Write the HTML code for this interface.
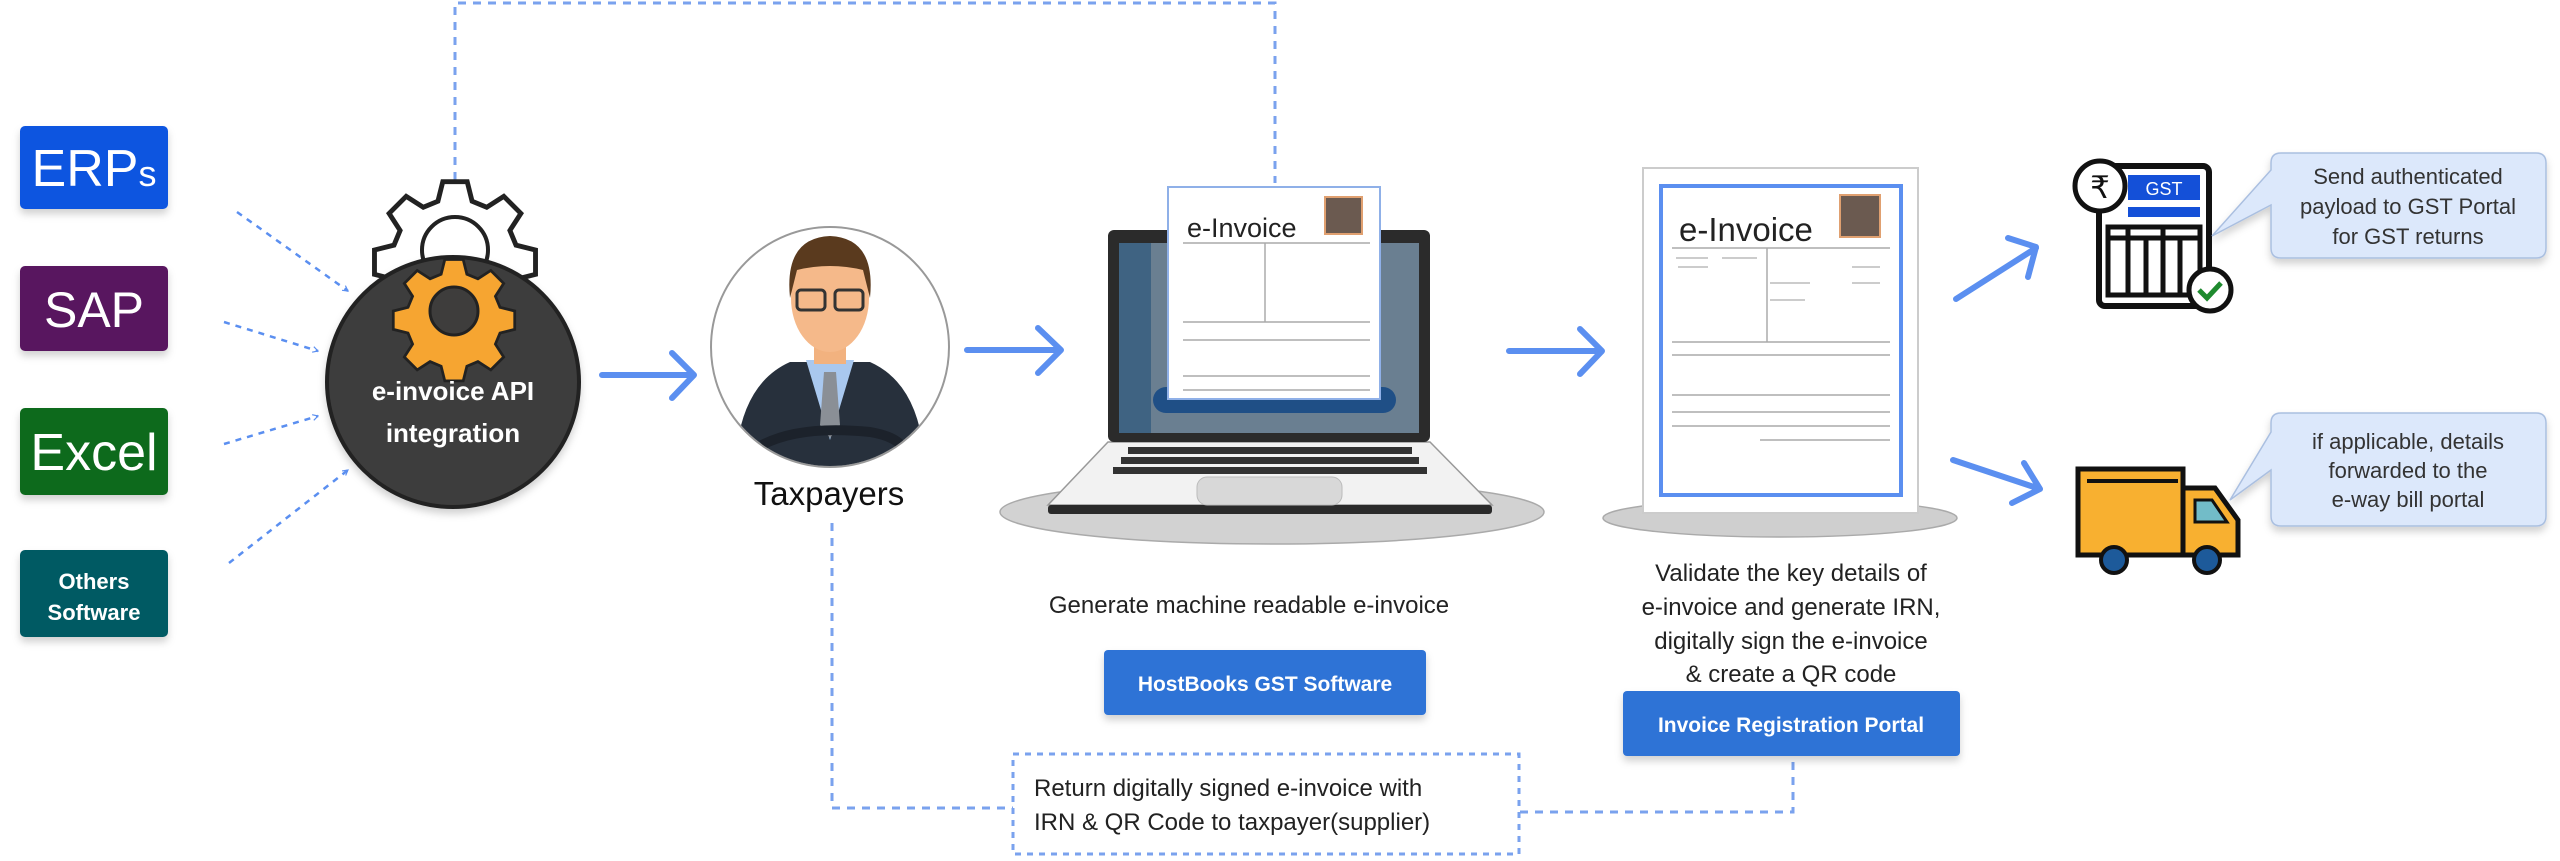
<!DOCTYPE html>
<html><head><meta charset="utf-8"><style>
html,body{margin:0;padding:0;background:#fff;width:2560px;height:861px;overflow:hidden}
svg{display:block}
text{font-family:"Liberation Sans","DejaVu Sans",sans-serif}
</style></head><body>
<svg width="2560" height="861" viewBox="0 0 2560 861" xmlns="http://www.w3.org/2000/svg">
<defs>
<marker id="oa" viewBox="0 0 12 12" refX="10" refY="6" markerWidth="7" markerHeight="7" orient="auto" markerUnits="userSpaceOnUse">
<path d="M1,1 L10,6 L1,11" fill="none" stroke="#5b8ff0" stroke-width="2"/></marker>
<filter id="sh" x="-20%" y="-20%" width="140%" height="150%"><feDropShadow dx="0" dy="5" stdDeviation="4" flood-color="#000" flood-opacity="0.18"/></filter>
<clipPath id="pc"><ellipse cx="830" cy="347" rx="118" ry="119"/></clipPath>
</defs>

<!-- top dashed connector -->
<path d="M455,180 V3 H1275 V183" fill="none" stroke="#7aa2ee" stroke-width="3" stroke-dasharray="8,7"/>
<!-- bottom return connectors -->
<path d="M832,523 V808 H1013" fill="none" stroke="#7aa2ee" stroke-width="3" stroke-dasharray="8,7"/>
<path d="M1793,762 V812 H1519" fill="none" stroke="#7aa2ee" stroke-width="3" stroke-dasharray="8,7"/>

<!-- source boxes -->
<g filter="url(#sh)">
<rect x="20" y="126" width="148" height="83" rx="5" fill="#0f54e0"/>
<rect x="20" y="266" width="148" height="85" rx="5" fill="#58125e"/>
<rect x="20" y="408" width="148" height="87" rx="5" fill="#0d6a1c"/>
<rect x="20" y="550" width="148" height="87" rx="5" fill="#055a64"/>
</g>
<text x="94" y="186" text-anchor="middle" font-size="52" fill="#fff">ERP<tspan font-size="36">s</tspan></text>
<text x="94" y="327" text-anchor="middle" font-size="50" fill="#fff">SAP</text>
<text x="94" y="470" text-anchor="middle" font-size="52" fill="#fff">Excel</text>
<text x="94" y="589" text-anchor="middle" font-size="22" fill="#fff" font-weight="bold">Others</text>
<text x="94" y="620" text-anchor="middle" font-size="22" fill="#fff" font-weight="bold">Software</text>

<!-- dashed arrows into API circle -->
<g stroke="#5b8ff0" stroke-width="2.5" stroke-dasharray="6,6" fill="none" marker-end="url(#oa)">
<line x1="237" y1="212" x2="348" y2="291"/>
<line x1="224" y1="322" x2="318" y2="351"/>
<line x1="224" y1="444" x2="318" y2="416"/>
<line x1="229" y1="563" x2="348" y2="470"/>
</g>

<!-- outline gear -->
<g transform="translate(455,250)">
<path d="M-10,-56 h20 l4,16 l12,5 l14,-9 l14,14 l-9,14 l5,12 l16,4 v20 l-16,4 l-5,12 l9,14 l-14,14 l-14,-9 l-12,5 l-4,16 h-20 l-4,-16 l-12,-5 l-14,9 l-14,-14 l9,-14 l-5,-12 l-16,-4 v-20 l16,-4 l5,-12 l-9,-14 l14,-14 l14,9 l12,-5 z" fill="#fff" stroke="#222" stroke-width="4" transform="scale(1.22)"/>
<circle r="33" fill="#fff" stroke="#222" stroke-width="4"/>
</g>
<!-- dark circle -->
<ellipse cx="453" cy="382" rx="126" ry="125" fill="#3e3d3c" stroke="#222" stroke-width="4" filter="url(#sh)"/>
<!-- orange gear -->
<g transform="translate(454,311)">
<path d="M-10,-56 h20 l4,16 l12,5 l14,-9 l14,14 l-9,14 l5,12 l16,4 v20 l-16,4 l-5,12 l9,14 l-14,14 l-14,-9 l-12,5 l-4,16 h-20 l-4,-16 l-12,-5 l-14,9 l-14,-14 l9,-14 l-5,-12 l-16,-4 v-20 l16,-4 l5,-12 l-9,-14 l14,-14 l14,9 l12,-5 z" fill="#f6a531" stroke="#222" stroke-width="3" transform="scale(0.92)"/>
<circle r="24" fill="#3e3d3c" stroke="#222" stroke-width="3"/>
</g>
<text x="453" y="400" text-anchor="middle" font-size="26" fill="#fff" font-weight="bold">e-invoice API</text>
<text x="453" y="442" text-anchor="middle" font-size="26" fill="#fff" font-weight="bold">integration</text>

<!-- solid arrows -->
<g stroke="#5b8ff0" stroke-width="6" fill="none" stroke-linecap="round" stroke-linejoin="round">
<path d="M602,375 H692 M672,353 L694,375 L672,398"/>
<path d="M967,350 H1058 M1038,328 L1061,350 L1038,373"/>
<path d="M1509,351 H1600 M1580,329 L1602,351 L1580,374"/>
<path d="M1956,299 L2036,248 M2008,238 L2036,247 L2028,277"/>
<path d="M1953,460 L2040,489 M2024,463 L2040,489 L2012,503"/>
</g>

<!-- taxpayer -->
<ellipse cx="830" cy="347" rx="119" ry="120" fill="#fff" stroke="#999" stroke-width="2"/>
<g clip-path="url(#pc)">
<path d="M735,470 Q738,385 790,362 L870,362 Q922,385 925,470 Z" fill="#27303c"/>
<path d="M806,360 L830,440 L854,360 Z" fill="#a9c8ef"/>
<path d="M824,372 L836,372 L840,425 L830,438 L820,425 Z" fill="#8a8f96"/>
<rect x="814" y="320" width="32" height="44" fill="#f2b27f"/>
<ellipse cx="830" cy="298" rx="39" ry="54" fill="#f5b98a"/>
<path d="M790,298 Q784,238 830,236 Q876,238 870,298 L863,270 Q830,262 797,270 Z" fill="#5a3a1e"/>
<rect x="797" y="290" width="28" height="20" rx="4" fill="none" stroke="#333" stroke-width="3"/>
<rect x="835" y="290" width="28" height="20" rx="4" fill="none" stroke="#333" stroke-width="3"/>
<path d="M762,445 Q800,425 870,432 Q900,437 905,452" fill="none" stroke="#1c222b" stroke-width="10"/>
</g>
<text x="829" y="505" text-anchor="middle" font-size="33" fill="#111">Taxpayers</text>

<!-- laptop -->
<ellipse cx="1272" cy="512" rx="272" ry="32" fill="#d2d2d2" stroke="#aaa" stroke-width="1.5"/>
<path d="M1108,442 L1430,442 L1492,505 L1048,505 Z" fill="#f2f2f2" stroke="#999" stroke-width="1.5"/>
<rect x="1048" y="505" width="444" height="9" rx="3" fill="#2a2a2a"/>
<g fill="#333">
<rect x="1128" y="447" width="284" height="7"/><rect x="1121" y="457" width="298" height="7"/><rect x="1113" y="467" width="314" height="7"/>
</g>
<rect x="1197" y="477" width="145" height="28" rx="10" fill="#d8d8d8" stroke="#bbb"/>
<rect x="1108" y="230" width="322" height="212" rx="6" fill="#2b2b2b"/>
<rect x="1119" y="243" width="300" height="190" fill="#6a7f91"/>
<rect x="1119" y="243" width="32" height="190" fill="#3f6382"/>
<rect x="1153" y="387" width="243" height="26" rx="13" fill="#1f4f86"/>
<!-- doc on laptop -->
<rect x="1168" y="187" width="212" height="212" fill="#fff" stroke="#8fb0e8" stroke-width="2"/>
<text x="1187" y="237" font-size="27" fill="#222">e-Invoice</text>
<rect x="1325" y="197" width="37" height="37" fill="#6b5a50" stroke="#e0a070" stroke-width="2"/>
<g stroke="#aaa" stroke-width="1.5">
<line x1="1183" y1="243" x2="1370" y2="243"/><line x1="1183" y1="322" x2="1370" y2="322"/>
<line x1="1183" y1="340" x2="1370" y2="340"/><line x1="1183" y1="376" x2="1370" y2="376"/>
<line x1="1183" y1="390" x2="1370" y2="390"/><line x1="1265" y1="243" x2="1265" y2="322"/>
</g>
<!-- document 2 -->
<ellipse cx="1780" cy="518" rx="177" ry="19" fill="#cfcfcf" stroke="#aaa" stroke-width="1.5"/>
<rect x="1643" y="168" width="275" height="345" fill="#fff" stroke="#ccc" stroke-width="2"/>
<rect x="1661" y="186" width="240" height="309" fill="none" stroke="#5b8ff0" stroke-width="4"/>
<text x="1679" y="241" font-size="33" fill="#222">e-Invoice</text>
<rect x="1840" y="195" width="40" height="42" fill="#6b5a50" stroke="#e0a070" stroke-width="2"/>
<g stroke="#aaa" stroke-width="1.5">
<line x1="1672" y1="248" x2="1890" y2="248"/><line x1="1672" y1="342" x2="1890" y2="342"/>
<line x1="1672" y1="355" x2="1890" y2="355"/><line x1="1672" y1="395" x2="1890" y2="395"/>
<line x1="1672" y1="412" x2="1890" y2="412"/><line x1="1672" y1="426" x2="1890" y2="426"/>
<line x1="1767" y1="248" x2="1767" y2="342"/><line x1="1760" y1="440" x2="1890" y2="440"/>
</g>
<g stroke="#ccc" stroke-width="2">
<line x1="1676" y1="258" x2="1708" y2="258"/><line x1="1722" y1="258" x2="1757" y2="258"/>
<line x1="1678" y1="267" x2="1708" y2="267"/><line x1="1770" y1="283" x2="1810" y2="283"/>
<line x1="1770" y1="300" x2="1805" y2="300"/><line x1="1852" y1="267" x2="1880" y2="267"/>
<line x1="1852" y1="283" x2="1880" y2="283"/>
</g>

<!-- labels -->
<text x="1249" y="613" text-anchor="middle" font-size="24" fill="#222">Generate machine readable e-invoice</text>
<rect x="1104" y="650" width="322" height="65" rx="4" fill="#2f73d6" filter="url(#sh)"/>
<text x="1265" y="691" text-anchor="middle" font-size="21" fill="#fff" font-weight="bold">HostBooks GST Software</text>
<g font-size="24" fill="#222" text-anchor="middle">
<text x="1791" y="581">Validate the key details of</text>
<text x="1791" y="615">e-invoice and generate IRN,</text>
<text x="1791" y="649">digitally sign the e-invoice</text>
<text x="1791" y="682">&amp; create a QR code</text>
</g>
<rect x="1623" y="691" width="337" height="65" rx="4" fill="#2f73d6" filter="url(#sh)"/>
<text x="1791" y="732" text-anchor="middle" font-size="21" fill="#fff" font-weight="bold">Invoice Registration Portal</text>

<!-- return box -->
<rect x="1013" y="754" width="506" height="100" fill="#fff" stroke="#7aa2ee" stroke-width="3" stroke-dasharray="6,6"/>
<text x="1034" y="796" font-size="24" fill="#222">Return digitally signed e-invoice with</text>
<text x="1034" y="830" font-size="24" fill="#222">IRN &amp; QR Code to taxpayer(supplier)</text>

<!-- GST icon -->
<rect x="2099" y="166" width="110" height="140" rx="6" fill="#fff" stroke="#111" stroke-width="6"/>
<rect x="2128" y="175" width="72" height="25" fill="#1450d8"/>
<text x="2164" y="195" text-anchor="middle" font-size="18" fill="#fff">GST</text>
<rect x="2128" y="207" width="72" height="10" fill="#1450d8"/>
<rect x="2108" y="227" width="92" height="68" fill="#fff" stroke="#111" stroke-width="5"/>
<g stroke="#111" stroke-width="5"><line x1="2108" y1="238" x2="2200" y2="238"/><line x1="2128" y1="227" x2="2128" y2="295"/><line x1="2146" y1="238" x2="2146" y2="295"/><line x1="2163" y1="227" x2="2163" y2="295"/><line x1="2180" y1="238" x2="2180" y2="295"/></g>
<circle cx="2100" cy="186" r="25" fill="#fff" stroke="#111" stroke-width="5"/>
<text x="2100" y="198" text-anchor="middle" font-size="31" fill="#111" font-family="DejaVu Sans">₹</text>
<circle cx="2210" cy="290" r="21" fill="#fff" stroke="#111" stroke-width="5"/>
<path d="M2199,290 L2207,298 L2221,283" fill="none" stroke="#1e8a2e" stroke-width="5"/>

<!-- truck -->
<rect x="2078" y="469" width="105" height="86" fill="#f8b030" stroke="#111" stroke-width="5"/>
<line x1="2087" y1="481" x2="2178" y2="481" stroke="#111" stroke-width="4"/>
<path d="M2183,488 L2215,488 L2238,520 L2238,555 L2183,555 Z" fill="#f8b030" stroke="#111" stroke-width="5"/>
<path d="M2195,500 L2212,500 L2227,522 L2195,522 Z" fill="#72bcc8" stroke="#111" stroke-width="3"/>
<circle cx="2114" cy="560" r="13" fill="#1d5a9a" stroke="#111" stroke-width="4"/>
<circle cx="2207" cy="560" r="13" fill="#1d5a9a" stroke="#111" stroke-width="4"/>

<!-- callouts -->
<g filter="url(#sh)">
<path d="M2281,153 H2536 Q2546,153 2546,163 V248 Q2546,258 2536,258 H2281 Q2271,258 2271,248 V205 L2212,236 L2271,170 V163 Q2271,153 2281,153 Z" fill="#dce8fb" stroke="#aabfe0" stroke-width="1.5"/>
<path d="M2281,413 H2536 Q2546,413 2546,423 V516 Q2546,526 2536,526 H2281 Q2271,526 2271,516 V470 L2230,500 L2271,432 V423 Q2271,413 2281,413 Z" fill="#dce8fb" stroke="#aabfe0" stroke-width="1.5"/>
</g>
<g font-size="22" fill="#333" text-anchor="middle">
<text x="2408" y="184">Send authenticated</text>
<text x="2408" y="214">payload to GST Portal</text>
<text x="2408" y="244">for GST returns</text>
<text x="2408" y="449">if applicable, details</text>
<text x="2408" y="478">forwarded to the</text>
<text x="2408" y="507">e-way bill portal</text>
</g>
</svg>
</body></html>
